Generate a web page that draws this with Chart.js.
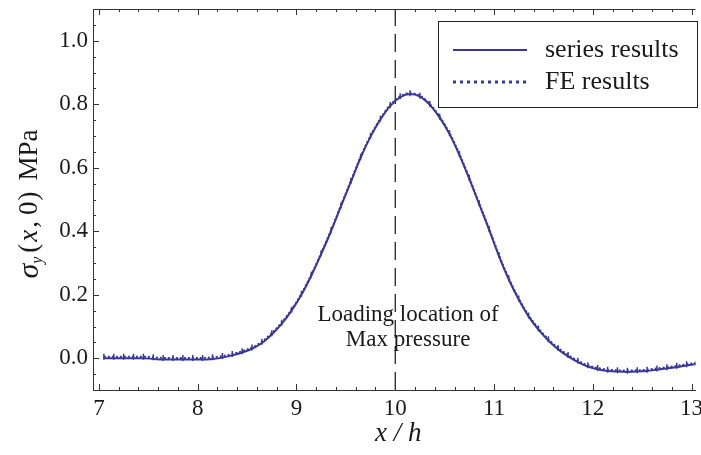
<!DOCTYPE html>
<html>
<head>
<meta charset="utf-8">
<script src="https://cdn.jsdelivr.net/npm/chart.js@4/dist/chart.umd.min.js"></script>
<style>
  html, body { margin: 0; padding: 0; background: #fff; }
  #wrap { width: 701px; height: 455px; position: relative; }
</style>
</head>
<body>
<div id="wrap"><canvas id="stressChart"></canvas></div>
<script>
// x / h positions (shared by both series)
const xPos = [
  7.05, 7.15, 7.25, 7.35, 7.45, 7.55, 7.65, 7.75, 7.85, 7.95,
  8.05, 8.15, 8.25, 8.35, 8.45, 8.55, 8.65, 8.75, 8.85, 8.95,
  9.05, 9.15, 9.25, 9.35, 9.45, 9.55, 9.65, 9.75, 9.85, 9.95,
  10.05, 10.15, 10.25, 10.35, 10.45, 10.55, 10.65, 10.75, 10.85, 10.95,
  11.05, 11.15, 11.25, 11.35, 11.45, 11.55, 11.65, 11.75, 11.85, 11.95,
  12.05, 12.15, 12.25, 12.35, 12.45, 12.55, 12.65, 12.75, 12.85, 12.95,
  13.05
];

// series results, sigma_y(x,0) in MPa
const seriesVals = [
  0.000, 0.000, 0.000, 0.000, 0.000, -0.002, -0.004, -0.004, -0.004, -0.004,
  -0.004, -0.002, 0.002, 0.009, 0.018, 0.030, 0.048, 0.075, 0.108, 0.150,
  0.200, 0.260, 0.328, 0.400, 0.478, 0.555, 0.632, 0.698, 0.752, 0.795,
  0.822, 0.832, 0.824, 0.798, 0.758, 0.706, 0.640, 0.565, 0.485, 0.405,
  0.322, 0.248, 0.185, 0.132, 0.090, 0.056, 0.028, 0.006, -0.012, -0.026,
  -0.035, -0.040, -0.042, -0.043, -0.042, -0.040, -0.036, -0.032, -0.028, -0.023,
  -0.018
];

// FE results (sits just on top of the series curve)
const feVals = [
  0.005, 0.005, 0.005, 0.005, 0.005, 0.003, 0.001, 0.001, 0.001, 0.001,
  0.001, 0.003, 0.007, 0.013, 0.022, 0.034, 0.052, 0.079, 0.112, 0.153,
  0.203, 0.263, 0.331, 0.403, 0.481, 0.558, 0.635, 0.701, 0.755, 0.798,
  0.825, 0.835, 0.827, 0.801, 0.761, 0.709, 0.643, 0.568, 0.488, 0.408,
  0.325, 0.251, 0.188, 0.135, 0.094, 0.060, 0.032, 0.010, -0.008, -0.022,
  -0.031, -0.036, -0.038, -0.039, -0.038, -0.036, -0.032, -0.028, -0.024, -0.019,
  -0.014
];

const xTicks = [7, 8, 9, 10, 11, 12, 13];
const yTicks = [0.0, 0.2, 0.4, 0.6, 0.8, 1.0];
const loadX = 10;
const noteLines = ["Loading location of", "Max pressure"];
const legendLabels = ["series results", "FE results"];

const lineColor = "#38389c";
const inkColor = "#1a1a1a";
const serif = "'Liberation Serif', 'Times New Roman', serif";

function toPts(xs, ys) {
  return xs.map((x, i) => ({ x: x, y: ys[i] }));
}

// frame, inward ticks, titles, note and legend
const decorPlugin = {
  id: "decor",
  afterDraw(chart) {
    const ctx = chart.ctx;
    const xs = chart.scales.x;
    const ys = chart.scales.y;
    const a = chart.chartArea;
    ctx.save();
    ctx.strokeStyle = "#333";
    ctx.lineWidth = 1;

    // top frame line
    ctx.beginPath();
    ctx.moveTo(a.left, a.top + 0.5);
    ctx.lineTo(a.right, a.top + 0.5);
    ctx.stroke();

    // x ticks, every 0.2, bottom and top
    for (let i = 0; i <= 30; i++) {
      const v = 7 + i * 0.2;
      const px = Math.round(xs.getPixelForValue(v)) + 0.5;
      const len = i % 5 === 0 ? 6 : 3;
      ctx.beginPath();
      ctx.moveTo(px, a.bottom);
      ctx.lineTo(px, a.bottom - len);
      ctx.moveTo(px, a.top);
      ctx.lineTo(px, a.top + len);
      ctx.stroke();
    }
    // y ticks, every 0.05
    for (let i = -2; i <= 22; i++) {
      const v = i * 0.05;
      const py = Math.round(ys.getPixelForValue(v)) + 0.5;
      if (py < a.top || py > a.bottom) continue;
      const len = i % 4 === 0 ? 6 : 3;
      ctx.beginPath();
      ctx.moveTo(a.left, py);
      ctx.lineTo(a.left + len, py);
      ctx.stroke();
    }

    ctx.fillStyle = inkColor;
    ctx.textBaseline = "middle";

    // x axis title: x / h
    ctx.font = "italic 27px " + serif;
    ctx.textAlign = "center";
    ctx.fillText("x / h", (a.left + a.right) / 2 + 4, 434);

    // y axis title: sigma_y (x, 0) MPa, rotated, with Mathematica-like spacing
    ctx.translate(30, 204);
    ctx.rotate(-Math.PI / 2);
    const parts = [
      { t: "σ", f: "italic 30px " + serif, dy: 0, gap: 0 },
      { t: "y", f: "italic 16px " + serif, dy: 8, gap: 4 },
      { t: "(", f: "27px " + serif, dy: 0, gap: 2 },
      { t: "x", f: "italic 27px " + serif, dy: 0, gap: 2 },
      { t: ",", f: "27px " + serif, dy: 0, gap: 6 },
      { t: "0", f: "27px " + serif, dy: 0, gap: 1 },
      { t: ")", f: "27px " + serif, dy: 0, gap: 11 },
      { t: "MPa", f: "27px " + serif, dy: 0, gap: 0 },
    ];
    let total = 0;
    parts.forEach((p) => { ctx.font = p.f; p.w = ctx.measureText(p.t).width; total += p.w + p.gap; });
    let cx = -total / 2;
    ctx.textAlign = "left";
    parts.forEach((p) => { ctx.font = p.f; ctx.fillText(p.t, cx, p.dy); cx += p.w + p.gap; });
    ctx.setTransform(1, 0, 0, 1, 0, 0);

    // note at the load location
    ctx.font = "23px " + serif;
    ctx.textAlign = "center";
    const nx = xs.getPixelForValue(10.13);
    ctx.fillText(noteLines[0], nx, ys.getPixelForValue(0.136));
    ctx.fillText(noteLines[1], nx, ys.getPixelForValue(0.057));

    // legend box
    const lx = 438, ly = 21, lw = 260, lh = 87;
    ctx.fillStyle = "#fff";
    ctx.fillRect(lx, ly, lw, lh);
    ctx.strokeStyle = "#222";
    ctx.strokeRect(lx + 0.5, ly + 0.5, lw - 1, lh - 1);
    const rows = [50, 82];
    const ds = chart.data.datasets;
    [0, 1].forEach((k) => {
      const d = ds[k];
      ctx.strokeStyle = d.borderColor;
      ctx.lineWidth = k === 0 ? 2 : 3;
      ctx.setLineDash(k === 0 ? [] : [3, 4]);
      ctx.beginPath();
      ctx.moveTo(453, rows[k]);
      ctx.lineTo(527, rows[k]);
      ctx.stroke();
    });
    ctx.setLineDash([]);
    ctx.fillStyle = inkColor;
    ctx.font = "26px " + serif;
    ctx.textAlign = "left";
    ctx.fillText(legendLabels[0], 545, rows[0]);
    ctx.fillText(legendLabels[1], 545, rows[1]);
    ctx.restore();
  },
};

const chartEl = document.getElementById("stressChart");
new Chart(chartEl.getContext("2d"), {
  type: "line",
  data: {
    datasets: [
      {
        label: legendLabels[0],
        data: toPts(xPos, seriesVals),
        borderColor: lineColor,
        borderWidth: 2,
        pointRadius: 0,
        tension: 0.4,
        cubicInterpolationMode: "monotone",
        order: 2,
      },
      {
        label: legendLabels[1],
        data: toPts(xPos, feVals),
        borderColor: lineColor,
        borderWidth: 2,
        borderDash: [2, 2],
        pointStyle: "line",
        rotation: 90,
        pointRadius: 3,
        pointBorderWidth: 1.5,
        pointBorderColor: lineColor,
        tension: 0.4,
        cubicInterpolationMode: "monotone",
        order: 1,
      },
      {
        label: "load",
        data: [{ x: loadX, y: -0.1 }, { x: loadX, y: 1.1 }],
        borderColor: "#111",
        borderWidth: 1.2,
        borderDash: [18, 8],
        pointRadius: 0,
        order: 3,
      },
    ],
  },
  options: {
    responsive: true,
    maintainAspectRatio: false,
    animation: false,
    devicePixelRatio: 1,
    layout: { padding: { left: 0, right: 4, top: 9, bottom: 0 } },
    plugins: {
      legend: { display: false },
      tooltip: { enabled: false },
    },
    scales: {
      x: {
        type: "linear",
        min: 6.94,
        max: 13.04,
        afterBuildTicks: (s) => { s.ticks = xTicks.map((v) => ({ value: v })); },
        afterFit: (s) => { s.height = 65; s.paddingLeft = 0; s.paddingRight = 0; },
        grid: { display: false, drawTicks: false },
        border: { display: true, color: "#333", width: 1 },
        ticks: {
          color: inkColor,
          font: { family: serif, size: 23 },
          padding: 5,
          maxRotation: 0,
          callback: (v) => String(v),
        },
      },
      y: {
        type: "linear",
        min: -0.1,
        max: 1.1,
        afterBuildTicks: (s) => { s.ticks = yTicks.map((v) => ({ value: v })); },
        afterFit: (s) => { s.width = 93; s.paddingTop = 0; s.paddingBottom = 0; },
        grid: { display: false, drawTicks: false },
        border: { display: true, color: "#333", width: 1 },
        ticks: {
          color: inkColor,
          font: { family: serif, size: 23 },
          padding: 5,
          callback: (v) => v.toFixed(1),
        },
      },
    },
  },
  plugins: [decorPlugin],
});
</script>
</body>
</html>
